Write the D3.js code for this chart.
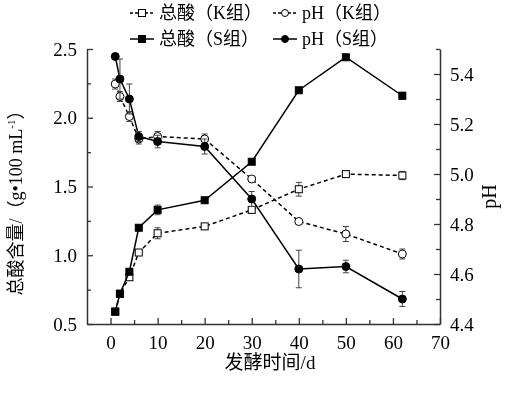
<!DOCTYPE html>
<html>
<head>
<meta charset="utf-8">
<script src="https://cdn.jsdelivr.net/npm/d3@7"></script>
<style>
  body { margin: 0; background: #fff; }
  svg { filter: grayscale(1); }
  text { font-family: "Liberation Serif", "Noto Sans CJK SC", serif; fill: #000; }
</style>
</head>
<body>
<div id="wrapper"></div>
<script>
// fermentation days
const days = [1, 2, 4, 6, 10, 20, 30, 40, 50, 62];

// total acid (g/100 mL), left axis
const acidK = [0.59, 0.72, 0.84, 1.02, 1.16, 1.21, 1.33, 1.48, 1.59, 1.58];
const acidKErr = [0.02, 0.02, 0.02, 0.02, 0.04, 0.02, 0.02, 0.05, 0.01, 0.03];
const acidS = [0.59, 0.72, 0.88, 1.20, 1.33, 1.40, 1.68, 2.20, 2.44, 2.16];
const acidSErr = [0.02, 0.02, 0.02, 0.02, 0.035, 0.01, 0.01, 0.01, 0.02, 0.025];

// pH, right axis
const phK = [5.36, 5.31, 5.23, 5.14, 5.15, 5.14, 4.98, 4.81, 4.76, 4.68];
const phKErr = [0.02, 0.02, 0.02, 0.02, 0.02, 0.02, 0.01, 0.01, 0.03, 0.02];
const phS = [5.47, 5.38, 5.30, 5.15, 5.13, 5.11, 4.90, 4.62, 4.63, 4.50];
const phSErr = [0.01, 0.08, 0.06, 0.02, 0.025, 0.03, 0.03, 0.075, 0.025, 0.03];

const xTicks = [0, 10, 20, 30, 40, 50, 60, 70];
const leftTicks = [0.5, 1.0, 1.5, 2.0, 2.5];
const rightTicks = [4.4, 4.6, 4.8, 5.0, 5.2, 5.4];

const legendLabels = ["总酸（K组）", "pH（K组）", "总酸（S组）", "pH（S组）"];

const dims = {
    width: 512,
    height: 395,
    margin: { top: 49, right: 72, bottom: 71, left: 87 }
};
dims.boundedWidth = dims.width - dims.margin.left - dims.margin.right;
dims.boundedHeight = dims.height - dims.margin.top - dims.margin.bottom;

const svg = d3.select("#wrapper")
    .append("svg")
    .attr("width", dims.width)
    .attr("height", dims.height);

const bounds = svg.append("g")
    .attr("transform", `translate(${dims.margin.left},${dims.margin.top})`);

const xScale = d3.scaleLinear().domain([-5, 70]).range([0, dims.boundedWidth]);
const yLeft = d3.scaleLinear().domain([0.5, 2.5]).range([dims.boundedHeight, 0]);
const yRight = d3.scaleLinear().domain([4.4, 5.5]).range([dims.boundedHeight, 0]);

const axisColor = "#333";
const fontSize = 18;

function styleAxis(g) {
    g.selectAll("path").attr("stroke", axisColor).attr("stroke-width", 1.5);
    g.selectAll("line").attr("stroke", axisColor).attr("stroke-width", 1.3);
    g.selectAll("text").attr("font-size", 19).attr("fill", "#111")
        .style("font-family", '"Liberation Serif", serif');
}

// x axis
const xAxis = bounds.append("g")
    .attr("transform", `translate(0,${dims.boundedHeight})`)
    .call(d3.axisBottom(xScale).tickValues(xTicks).tickFormat(d3.format("d"))
        .tickSizeInner(-6).tickSizeOuter(0).tickPadding(12));
styleAxis(xAxis);
const xMinor = bounds.append("g")
    .attr("transform", `translate(0,${dims.boundedHeight})`)
    .call(d3.axisBottom(xScale).tickValues([5, 15, 25, 35, 45, 55, 65]).tickFormat("")
        .tickSizeInner(-4).tickSizeOuter(0));
styleAxis(xMinor);
xMinor.select("path").remove();

// left axis
const leftAxis = bounds.append("g")
    .call(d3.axisLeft(yLeft).tickValues(leftTicks).tickFormat(d3.format(".1f"))
        .tickSizeInner(-6).tickSizeOuter(0).tickPadding(10));
styleAxis(leftAxis);
const leftMinor = bounds.append("g")
    .call(d3.axisLeft(yLeft).tickValues([0.75, 1.25, 1.75, 2.25]).tickFormat("")
        .tickSizeInner(-4).tickSizeOuter(0));
styleAxis(leftMinor);
leftMinor.select("path").remove();

// right axis
const rightAxis = bounds.append("g")
    .attr("transform", `translate(${dims.boundedWidth},0)`)
    .call(d3.axisRight(yRight).tickValues(rightTicks).tickFormat(d3.format(".1f"))
        .tickSizeInner(-6).tickSizeOuter(0).tickPadding(10));
styleAxis(rightAxis);
const rightMinor = bounds.append("g")
    .attr("transform", `translate(${dims.boundedWidth},0)`)
    .call(d3.axisRight(yRight).tickValues([4.5, 4.7, 4.9, 5.1, 5.3, 5.5]).tickFormat("")
        .tickSizeInner(-4).tickSizeOuter(0));
styleAxis(rightMinor);
rightMinor.select("path").remove();

// series
const series = [
    { vals: acidK, err: acidKErr, y: yLeft, dash: "4,3", shape: "square", fill: "#fff" },
    { vals: phK, err: phKErr, y: yRight, dash: "4,3", shape: "circle", fill: "#fff" },
    { vals: acidS, err: acidSErr, y: yLeft, dash: null, shape: "square", fill: "#000" },
    { vals: phS, err: phSErr, y: yRight, dash: null, shape: "circle", fill: "#000" }
];

const line = (s) => d3.line()
    .x((d, i) => xScale(days[i]))
    .y(d => s.y(d));

series.forEach(s => {
    const g = bounds.append("g");
    g.append("path")
        .datum(s.vals)
        .attr("d", line(s))
        .attr("fill", "none")
        .attr("stroke", "#000")
        .attr("stroke-width", 1.5)
        .attr("stroke-dasharray", s.dash);

    // error bars
    const eb = g.selectAll(".eb").data(s.vals).enter().append("g");
    eb.append("line")
        .attr("x1", (d, i) => xScale(days[i])).attr("x2", (d, i) => xScale(days[i]))
        .attr("y1", (d, i) => s.y(d - s.err[i])).attr("y2", (d, i) => s.y(d + s.err[i]))
        .attr("stroke", "#444").attr("stroke-width", 1);
    [-1, 1].forEach(sign => {
        eb.append("line")
            .attr("x1", (d, i) => xScale(days[i]) - 3).attr("x2", (d, i) => xScale(days[i]) + 3)
            .attr("y1", (d, i) => s.y(d + sign * s.err[i])).attr("y2", (d, i) => s.y(d + sign * s.err[i]))
            .attr("stroke", "#444").attr("stroke-width", 1);
    });

    if (s.shape === "square") {
        g.selectAll("rect").data(s.vals).enter().append("rect")
            .attr("x", (d, i) => xScale(days[i]) - 3.5)
            .attr("y", d => s.y(d) - 3.5)
            .attr("width", 7).attr("height", 7)
            .attr("fill", s.fill).attr("stroke", "#000").attr("stroke-width", 1);
    } else {
        g.selectAll("circle").data(s.vals).enter().append("circle")
            .attr("cx", (d, i) => xScale(days[i]))
            .attr("cy", d => s.y(d))
            .attr("r", 4)
            .attr("fill", s.fill).attr("stroke", "#000").attr("stroke-width", 1);
    }
});

// legend
const legendPos = [[130, 13], [273, 13], [130, 39], [273, 39]];
series.forEach((s, i) => {
    const [lx, ly] = legendPos[i];
    const lg = svg.append("g").attr("transform", `translate(${lx},${ly})`);
    lg.append("line")
        .attr("x1", 0).attr("x2", 24).attr("y1", 0).attr("y2", 0)
        .attr("stroke", "#000").attr("stroke-width", 1.5)
        .attr("stroke-dasharray", s.dash ? "3,2" : null);
    if (s.shape === "square") {
        lg.append("rect").attr("x", 8.5).attr("y", -3.5).attr("width", 7).attr("height", 7)
            .attr("fill", s.fill).attr("stroke", "#000");
    } else {
        lg.append("circle").attr("cx", 12).attr("cy", 0).attr("r", 3.5)
            .attr("fill", s.fill).attr("stroke", "#000");
    }
    lg.append("text")
        .attr("x", 29).attr("y", 0).attr("dy", "0.35em")
        .attr("font-size", fontSize)
        .attr("fill", "#000")
        .text(legendLabels[i]);
});

// axis titles
svg.append("text")
    .attr("x", 270)
    .attr("y", 369)
    .attr("text-anchor", "middle")
    .attr("font-size", 19)
    .attr("fill", "#000")
    .text("发酵时间/d");

const yTitle = svg.append("text")
    .attr("transform", `translate(22,${dims.margin.top + dims.boundedHeight / 2 + 12}) rotate(-90)`)
    .attr("text-anchor", "middle")
    .attr("font-size", fontSize)
    .attr("fill", "#000");
yTitle.append("tspan").attr("fill", "#000").text("总酸含量/（g•100 mL");
yTitle.append("tspan").attr("fill", "#000").attr("font-size", 11).attr("dy", -7).text("-1");
yTitle.append("tspan").attr("fill", "#000").attr("dy", 7).text("）");

svg.append("text")
    .attr("transform", `translate(496,${dims.margin.top + dims.boundedHeight / 2 + 10}) rotate(-90)`)
    .attr("text-anchor", "middle")
    .attr("font-size", fontSize + 2)
    .attr("fill", "#000")
    .text("pH");
</script>
</body>
</html>
